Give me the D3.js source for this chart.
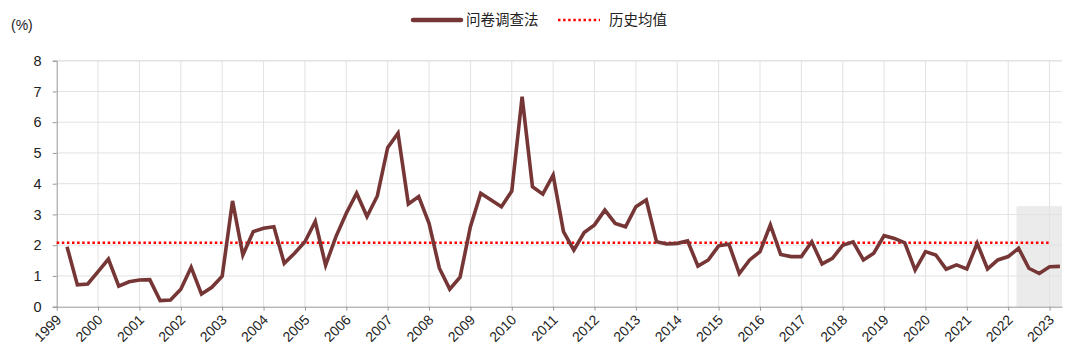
<!DOCTYPE html>
<html>
<head>
<meta charset="utf-8">
<script src="https://cdn.jsdelivr.net/npm/d3@7"></script>
<style>
  body { margin: 0; background: #fff; }
  svg text { font-family: "Liberation Sans", Arial, sans-serif; fill: #222; }
  .cjk { font-family: "Noto Sans CJK SC", "Liberation Sans", sans-serif; }
</style>
</head>
<body>
<script>
// Quarterly survey-method series, first quarter ends 1999Q1, last 2023Q1
let firstQuarter = 1999.25;
let values = [
    1.95, 0.71, 0.74,
    1.14, 1.55, 0.67, 0.81,
    0.87, 0.88, 0.20, 0.22,
    0.57, 1.28, 0.41, 0.63,
    0.99, 3.44, 1.68, 2.44,
    2.55, 2.60, 1.41, 1.74,
    2.11, 2.77, 1.35, 2.28,
    3.04, 3.69, 2.93, 3.60,
    5.17, 5.64, 3.34, 3.58,
    2.71, 1.25, 0.57, 0.96,
    2.60, 3.69, 3.47, 3.25,
    3.76, 6.83, 3.90, 3.66,
    4.28, 2.44, 1.84, 2.41,
    2.66, 3.14, 2.71, 2.60,
    3.25, 3.47, 2.11, 2.04,
    2.06, 2.14, 1.32, 1.52,
    1.98, 2.03, 1.08, 1.52,
    1.79, 2.66, 1.70, 1.63,
    1.63, 2.11, 1.39, 1.57,
    2.00, 2.11, 1.52, 1.74,
    2.31, 2.22, 2.08, 1.19,
    1.79, 1.68, 1.22, 1.36,
    1.23, 2.06, 1.23, 1.52,
    1.63, 1.90, 1.25, 1.08,
    1.30, 1.31
];
let historicalMean = 2.08;
let meanEnd = 2023.0;
let years = d3.range(1999, 2024);
let yTicks = [0, 1, 2, 3, 4, 5, 6, 7, 8];
let shade = { start: 2022.2, end: 2023.3, top: 3.27 };
let legendNames = ['问卷调查法', '历史均值'];

let data = values.map((v, i) => ({ t: firstQuarter + i * 0.25, v: v }));

let width = 1080, height = 362;
let margin = { left: 56.7, right: 18, top: 60.7, bottom: 55.3 };

let svg = d3.select('body').append('svg')
    .attr('width', width)
    .attr('height', height);

let x = d3.scaleLinear()
    .domain([1999, 2023.3])
    .range([margin.left, width - margin.right]);
let y = d3.scaleLinear()
    .domain([0, 8])
    .range([height - margin.bottom, margin.top]);

// shaded forecast block, drawn under the grid
svg.append('rect')
    .attr('x', x(shade.start))
    .attr('y', y(shade.top))
    .attr('width', x(shade.end) - x(shade.start))
    .attr('height', y(0) - y(shade.top))
    .style('fill', '#ebebeb');

// grid lines
svg.append('g').selectAll('line')
    .data(yTicks.filter(d => d > 0))
    .join('line')
        .attr('x1', x.range()[0]).attr('x2', x.range()[1])
        .attr('y1', d => y(d)).attr('y2', d => y(d))
        .style('stroke', '#e2e2e2')
        .style('stroke-width', d => d == 8 ? 1.6 : 1);
svg.append('g').selectAll('line')
    .data(years.slice(1))
    .join('line')
        .attr('x1', d => x(d)).attr('x2', d => x(d))
        .attr('y1', y(0)).attr('y2', y(8))
        .style('stroke', '#e2e2e2');

// axes
let yAxis = svg.append('g')
    .attr('transform', `translate(${x.range()[0]},0)`)
    .call(d3.axisLeft(y).tickValues(yTicks).tickSize(4).tickPadding(11));
yAxis.select('.domain').style('stroke', '#999');
yAxis.selectAll('line').style('stroke', '#999');
yAxis.selectAll('text').style('font-size', '14.5px').style('fill', '#222');

let xAxis = svg.append('g')
    .attr('transform', `translate(0,${y(0)})`)
    .call(d3.axisBottom(x).tickValues(years).tickFormat(d3.format('d')).tickSize(4).tickSizeOuter(0));
xAxis.select('.domain').style('stroke', '#999');
xAxis.selectAll('line').style('stroke', '#999');
xAxis.selectAll('text')
    .style('font-size', '14px')
    .style('fill', '#222')
    .attr('text-anchor', 'end')
    .attr('dx', 0).attr('dy', 0)
    .attr('y', 0)
    .attr('transform', 'translate(5,14) rotate(-45)');

// historical mean
svg.append('line')
    .attr('x1', x(1999)).attr('x2', x(meanEnd))
    .attr('y1', y(historicalMean)).attr('y2', y(historicalMean))
    .style('stroke', '#ff0000')
    .style('stroke-width', 2.5)
    .style('stroke-dasharray', '2.5 2.6');

// main series
svg.append('path')
    .datum(data)
    .attr('d', d3.line().x(d => x(d.t)).y(d => y(d.v)))
    .style('fill', 'none')
    .style('stroke', '#763636')
    .style('stroke-width', 3.6)
    .style('stroke-linejoin', 'miter');

// unit label
svg.append('text')
    .attr('x', 11).attr('y', 30)
    .style('font-size', '14px')
    .text('(%)');

// legend
let legend = svg.append('g');
legend.append('line')
    .attr('x1', 413).attr('x2', 461).attr('y1', 20).attr('y2', 20)
    .style('stroke', '#763636').style('stroke-width', 4.5)
    .style('stroke-linecap', 'round');
legend.append('text').attr('class', 'cjk')
    .attr('x', 466).attr('y', 25)
    .style('font-size', '14.5px')
    .text(legendNames[0]);
legend.append('line')
    .attr('x1', 558).attr('x2', 600).attr('y1', 20).attr('y2', 20)
    .style('stroke', '#ff0000').style('stroke-width', 2.5)
    .style('stroke-dasharray', '2.5 2.6');
legend.append('text').attr('class', 'cjk')
    .attr('x', 609).attr('y', 25)
    .style('font-size', '14.5px')
    .text(legendNames[1]);
</script>
</body>
</html>
